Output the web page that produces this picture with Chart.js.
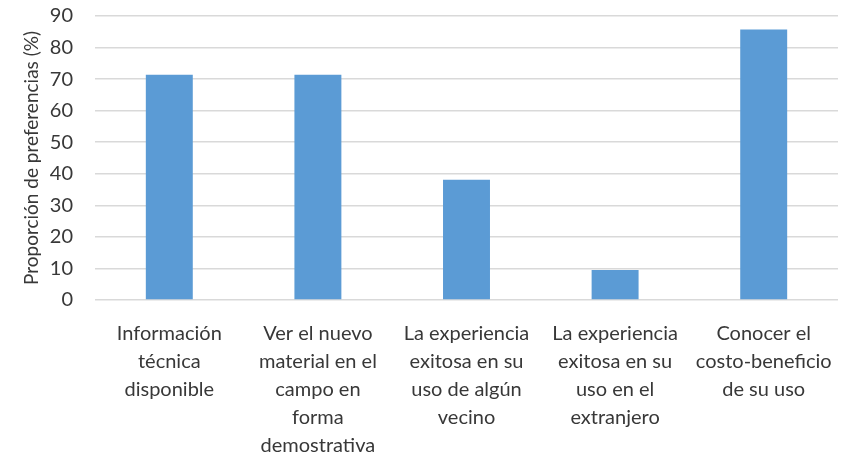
<!DOCTYPE html>
<html>
<head>
<meta charset="utf-8">
<script src="https://cdn.jsdelivr.net/npm/chart.js@4"></script>
<style>
  body { margin: 0; background: #fff; }
</style>
</head>
<body>
<canvas id="grafico" width="854" height="455"></canvas>
<script>
// categorias (una línea por elemento del arreglo)
var categorias = [
  ['Información', 'técnica', 'disponible'],
  ['Ver el nuevo', 'material en el', 'campo en', 'forma', 'demostrativa'],
  ['La experiencia', 'exitosa en su', 'uso de algún', 'vecino'],
  ['La experiencia', 'exitosa en su', 'uso en el', 'extranjero'],
  ['Conocer el', 'costo-beneficio', 'de su uso']
];
var proporciones = [71.4, 71.4, 38.1, 9.5, 85.7];
var ejeY = { min: 0, max: 90, paso: 10 };
var tituloY = 'Proporción de preferencias (%)';

var fuente = 'Lato, "Noto Sans", sans-serif';
var colorTexto = '#383838';

var ctx = document.getElementById('grafico').getContext('2d');

var myChart = new Chart(ctx, {
  type: 'bar',
  data: {
    labels: categorias,
    datasets: [{
      data: proporciones,
      backgroundColor: '#5B9BD5',
      borderWidth: 0,
      barPercentage: 0.632,
      categoryPercentage: 0.5
    }]
  },
  options: {
    responsive: false,
    animation: false,
    layout: { padding: { top: 15, right: 16, left: 0, bottom: 0 } },
    plugins: {
      legend: { display: false },
      tooltip: { enabled: false }
    },
    scales: {
      x: {
        grid: { display: false },
        border: { display: false },
        ticks: {
          color: colorTexto,
          font: { family: fuente, size: 20, lineHeight: 1.4 },
          padding: 12,
          maxRotation: 0,
          autoSkip: false
        },
        afterFit: function(scale) { scale.height = 155; }
      },
      y: {
        min: ejeY.min,
        max: ejeY.max,
        grid: {
          color: '#D9D9D9',
          lineWidth: 1.5,
          drawTicks: true,
          tickLength: 18,
          tickColor: 'rgba(0,0,0,0)'
        },
        border: { display: false },
        ticks: {
          stepSize: ejeY.paso,
          color: colorTexto,
          font: { family: fuente, size: 20, lineHeight: 1.2 },
          padding: 4
        },
        title: {
          display: true,
          text: tituloY,
          color: colorTexto,
          font: { family: fuente, size: 19 },
          padding: { top: 20, bottom: 0 }
        },
        afterFit: function(scale) { scale.width = 95; }
      }
    }
  }
});
</script>
</body>
</html>
